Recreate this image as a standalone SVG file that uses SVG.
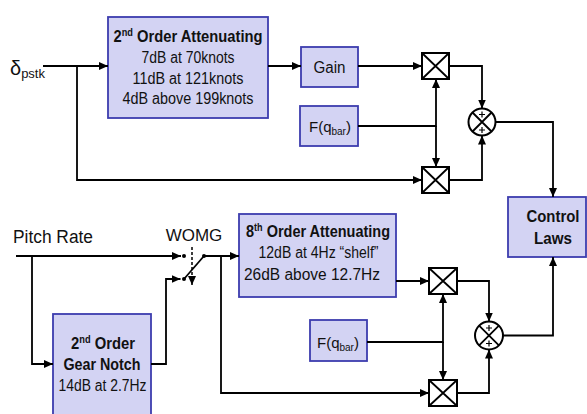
<svg xmlns="http://www.w3.org/2000/svg" width="587" height="414" viewBox="0 0 587 414">
<defs>
<marker id="ah" markerUnits="userSpaceOnUse" markerWidth="9" markerHeight="8" refX="9" refY="4" orient="auto">
<path d="M0,0 L9,4 L0,8 z" fill="#000"/>
</marker>
<style>
.box{fill:#d3d3f3;stroke:#3c3cae;stroke-width:1.8}
.t{font-family:"Liberation Sans",Arial,sans-serif;font-size:16px;fill:#111;text-anchor:middle}
.fq{font-family:"Liberation Sans",Arial,sans-serif;font-size:15px;fill:#111}
.b{font-weight:bold}
.w{fill:none;stroke:#000;stroke-width:1.8}
.mx{fill:#fff;stroke:#000;stroke-width:2}
.sup{font-size:10px}
</style>
</defs>
<rect width="587" height="414" fill="#fff"/>

<g id="input-delta">
<text x="10" y="75" style="font-family:'Liberation Sans',Arial,sans-serif;font-size:20px;fill:#111">δ<tspan font-size="13" dy="3">pstk</tspan></text>
</g>

<g id="atten2">
<rect class="box" x="108" y="17" width="160" height="101"/>
<text class="t b" x="188" y="42" textLength="149" lengthAdjust="spacingAndGlyphs">2<tspan class="sup" dy="-6">nd</tspan><tspan dy="6"> Order Attenuating</tspan></text>
<text class="t" x="188" y="63" textLength="93" lengthAdjust="spacingAndGlyphs">7dB at 70knots</text>
<text class="t" x="188" y="84" textLength="111" lengthAdjust="spacingAndGlyphs">11dB at 121knots</text>
<text class="t" x="188" y="104" textLength="131" lengthAdjust="spacingAndGlyphs">4dB above 199knots</text>
</g>

<g id="gain">
<rect class="box" x="301" y="47" width="57" height="40"/>
<text class="t" x="329.5" y="73" textLength="32" lengthAdjust="spacingAndGlyphs">Gain</text>
</g>

<g id="fqbar1">
<rect class="box" x="300" y="106" width="58" height="40"/>
<text class="fq" x="309" y="132">F(q<tspan font-size="10" dy="3">bar</tspan><tspan dy="-3">)</tspan></text>
</g>

<g id="mult1">
<rect class="mx" x="422" y="53" width="27" height="26"/>
<path class="w" d="M422,53 L449,79 M449,53 L422,79"/>
</g>
<g id="mult2">
<rect class="mx" x="422" y="167" width="27" height="26"/>
<path class="w" d="M422,167 L449,193 M449,167 L422,193"/>
</g>

<g id="sum1">
<circle class="mx" cx="482" cy="122" r="13.5"/>
<path class="w" d="M472.5,112.5 L491.5,131.5 M491.5,112.5 L472.5,131.5" stroke-width="1.6"/>
<path d="M479,114.5 H485 M482,111.5 V117.5 M479,130 H485 M482,127 V133" stroke="#000" stroke-width="1.2" fill="none"/>
</g>

<g id="control-laws">
<rect class="box" x="508" y="197" width="78" height="60"/>
<text class="t b" x="553" y="222" style="font-size:17px" textLength="53" lengthAdjust="spacingAndGlyphs">Control</text>
<text class="t b" x="553" y="244" style="font-size:17px" textLength="38" lengthAdjust="spacingAndGlyphs">Laws</text>
</g>

<g id="pitch-rate">
<text x="13" y="243" style="font-family:'Liberation Sans',Arial,sans-serif;font-size:18px;fill:#111" textLength="80" lengthAdjust="spacingAndGlyphs">Pitch Rate</text>
</g>

<g id="womg-switch">
<text class="t" x="194" y="241" style="font-size:17px">WOMG</text>
<circle cx="184" cy="256" r="2" fill="#000"/>
<circle cx="184" cy="279" r="2" fill="#000"/>
<circle cx="204" cy="256" r="2" fill="#000"/>
<path class="w" d="M184,279 L204,256"/>
<path d="M192,247 V285" stroke="#000" stroke-width="1.5" stroke-dasharray="3,2" fill="none" marker-end="url(#ah)"/>
</g>

<g id="gear-notch">
<rect class="box" x="53" y="314" width="98" height="110"/>
<text class="t b" x="103" y="349" textLength="64" lengthAdjust="spacingAndGlyphs">2<tspan class="sup" dy="-6">nd</tspan><tspan dy="6"> Order</tspan></text>
<text class="t b" x="102" y="370" textLength="77" lengthAdjust="spacingAndGlyphs">Gear Notch</text>
<text class="t" x="102.5" y="391" textLength="88" lengthAdjust="spacingAndGlyphs">14dB at 2.7Hz</text>
</g>

<g id="atten8">
<rect class="box" x="239" y="214" width="157" height="83"/>
<text class="t b" x="318" y="237" textLength="144" lengthAdjust="spacingAndGlyphs">8<tspan class="sup" dy="-6">th</tspan><tspan dy="6"> Order Attenuating</tspan></text>
<text class="t" x="318.5" y="258" textLength="120" lengthAdjust="spacingAndGlyphs">12dB at 4Hz “shelf”</text>
<text class="t" x="312" y="280" textLength="136" lengthAdjust="spacingAndGlyphs">26dB above 12.7Hz</text>
</g>

<g id="fqbar2">
<rect class="box" x="310" y="320" width="57" height="41"/>
<text class="fq" x="317" y="348">F(q<tspan font-size="10" dy="3">bar</tspan><tspan dy="-3">)</tspan></text>
</g>

<g id="mult3">
<rect class="mx" x="429" y="268" width="28" height="26"/>
<path class="w" d="M429,268 L457,294 M457,268 L429,294"/>
</g>
<g id="mult4">
<rect class="mx" x="429" y="380" width="28" height="26"/>
<path class="w" d="M429,380 L457,406 M457,380 L429,406"/>
</g>

<g id="sum2">
<circle class="mx" cx="489" cy="335.5" r="14"/>
<path class="w" d="M479.1,325.6 L498.9,345.4 M498.9,325.6 L479.1,345.4" stroke-width="1.6"/>
<path d="M486,328 H492 M489,325 V331 M486,343.5 H492 M489,340.5 V346.5" stroke="#000" stroke-width="1.2" fill="none"/>
</g>

<g id="connectors" class="w" marker-end="url(#ah)">
<path d="M43,66 H108"/>
<path d="M77,66 V180 H422"/>
<path d="M268,66 H301"/>
<path d="M358,66 H422"/>
<path d="M358,126 H436 V79"/>
<path d="M436,126 V167"/>
<path d="M449,66 H482 V108.5"/>
<path d="M449,180 H482 V135.5"/>
<path d="M495.5,122 H553 V197"/>
<path d="M16,256 H181"/>
<path d="M32,256 V364 H53"/>
<path d="M151,364 H166 V279 H180.5"/>
<path d="M204,256 H239"/>
<path d="M221,256 V393 H429"/>
<path d="M396,281 H429"/>
<path d="M367,342 H443 V294"/>
<path d="M443,342 V380"/>
<path d="M457,281 H489 V321.5"/>
<path d="M457,393 H489 V349.5"/>
<path d="M503,335.5 H553 V257"/>
</g>
</svg>
